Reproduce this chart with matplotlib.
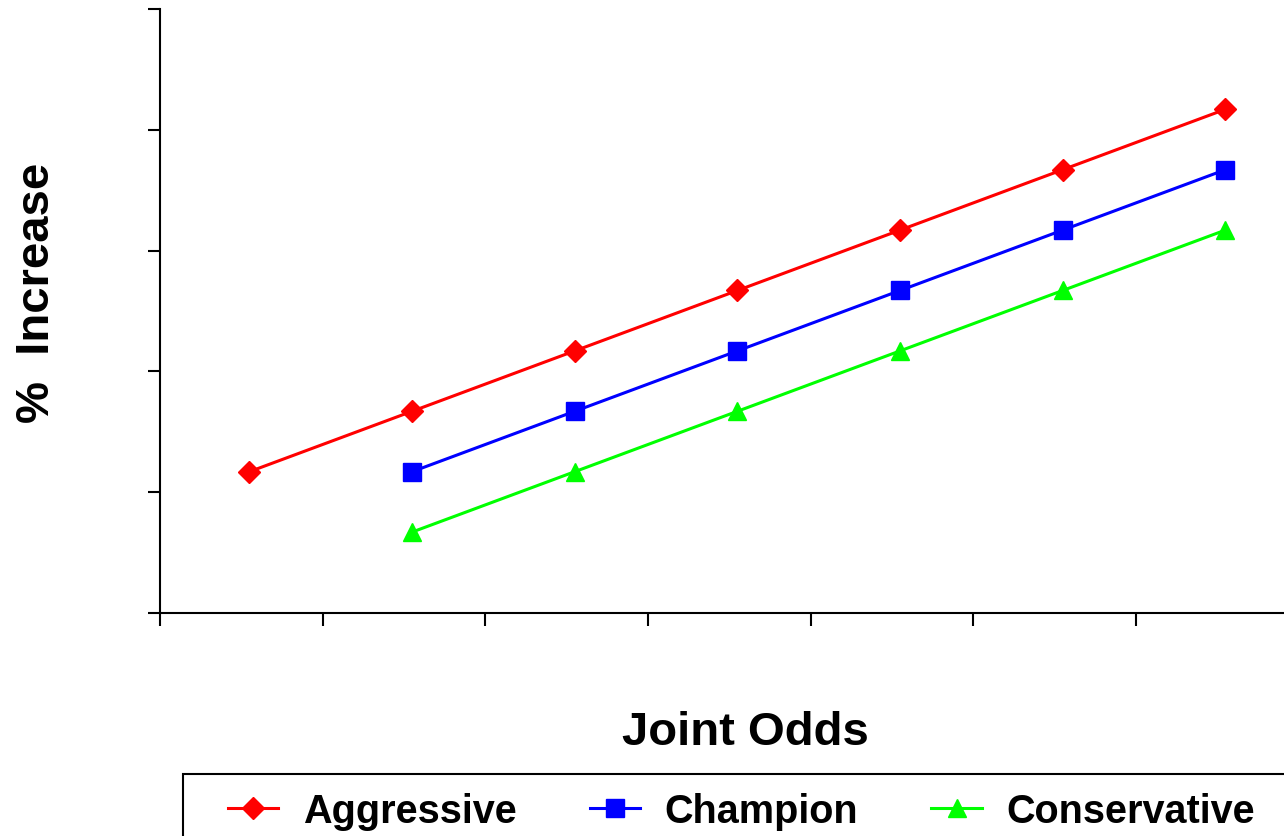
import numpy as np
import matplotlib.pyplot as plt
from matplotlib.patches import Rectangle

# category positions along the joint-odds axis (no labels shown in source)
positions = np.arange(1, 8)
aggressive = [1.17, 1.67, 2.17, 2.67, 3.17, 3.67, 4.17]
champion = [np.nan, 1.17, 1.67, 2.17, 2.67, 3.17, 3.67]
conservative = [np.nan, 0.67, 1.17, 1.67, 2.17, 2.67, 3.17]

plt.rcParams['font.family'] = ['Liberation Sans', 'DejaVu Sans']

fig = plt.figure(figsize=(12.84, 8.37), dpi=100)
ax = fig.add_axes([160 / 1284, 1 - 614 / 837, 1124 / 1284, 604 / 837])

ax.plot(positions, aggressive, color='#ff0000', lw=2.2, marker='D', ms=11,
        label='Aggressive')
ax.plot(positions, champion, color='#0000ff', lw=2.2, marker='s', ms=12.5,
        label='Champion')
ax.plot(positions, conservative, color='#00ff00', lw=2.2, marker='^', ms=13.5,
        label='Conservative')

ax.set_yticks(np.arange(0, 6))
ax.set_xticks(np.arange(0, 7) + 0.45)
ax.set_ylim(0, 5)
ax.set_xlim(0.45, 0.45 + 1124 / 162.67)
ax.set_xticklabels([])
ax.set_yticklabels([])
ax.tick_params(direction='out', length=9, width=1.5, color='black')
for side in ('top', 'right'):
    ax.spines[side].set_visible(False)
for side in ('left', 'bottom'):
    ax.spines[side].set_linewidth(1.5)
    ax.spines[side].set_color('black')

fig.text(745 / 1284, 1 - 733 / 837, 'Joint Odds', fontsize=34, fontweight='bold',
         ha='center', va='center')
fig.text(37 / 1284, 1 - 293 / 837, '%  Increase', fontsize=34, fontweight='bold',
         ha='center', va='center', rotation=90)

# legend frame runs off the bottom/right edge as in the source
fig.patches.append(Rectangle((183 / 1284, -0.1), 1.2, 1 - 775 / 837 + 0.1,
                             transform=fig.transFigure, fill=False,
                             edgecolor='black', lw=1.5))
handles, labels = ax.get_legend_handles_labels()
fig.legend(handles, labels, loc='center left', ncol=3, frameon=False,
           bbox_to_anchor=(228 / 1284, 1 - 812 / 837), borderpad=0,
           borderaxespad=0, handlelength=1.27, handletextpad=0.62,
           columnspacing=1.85, prop={'size': 28.5, 'weight': 'bold'})

plt.savefig('out.png', dpi=100)
